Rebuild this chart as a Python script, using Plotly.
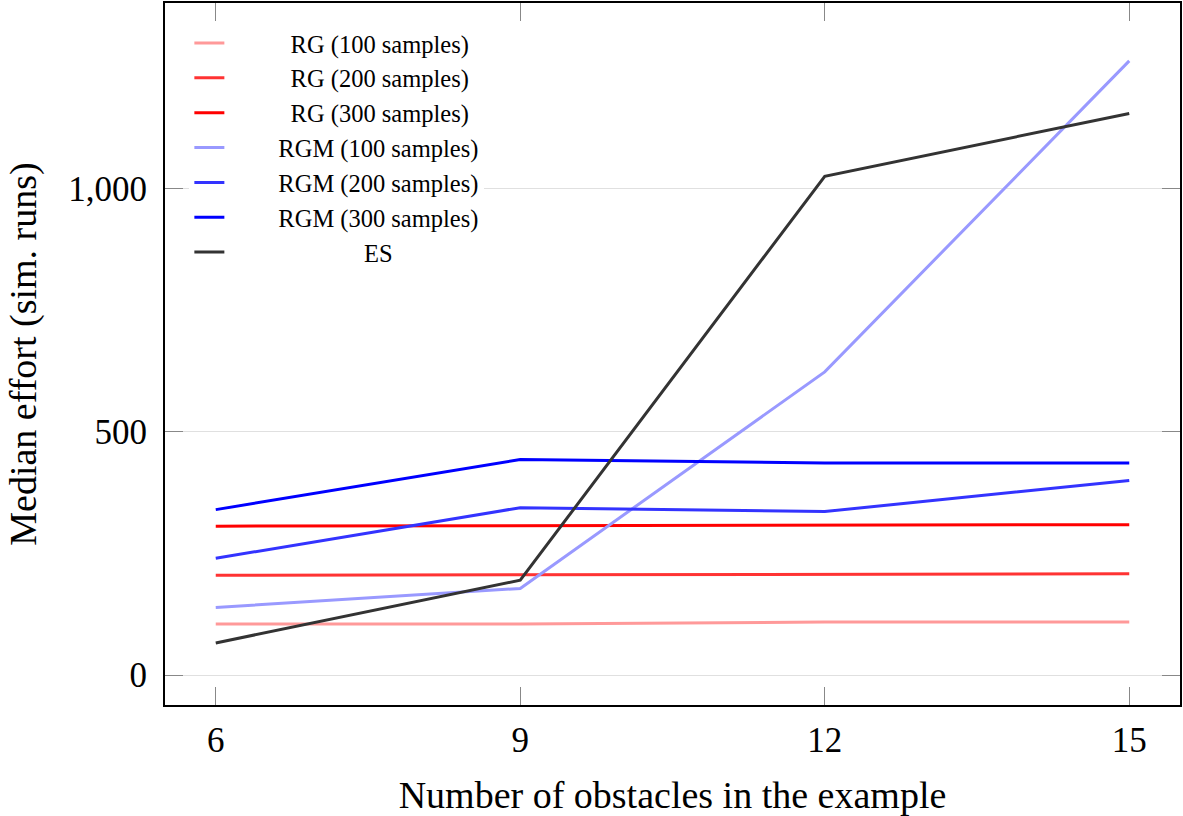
import plotly.graph_objects as go

obstacles = [6, 9, 12, 15]
rg_100 = [105, 105, 109, 109]
rg_200 = [205, 206, 208, 208]
rg_300 = [306, 307, 308, 309]
rgm_100 = [139, 178, 623, 1262]
rgm_200 = [240, 344, 336, 400]
rgm_300 = [340, 443, 436, 436]
es = [66, 195, 1025, 1154]

names = ["RG (100 samples)", "RG (200 samples)", "RG (300 samples)",
         "RGM (100 samples)", "RGM (200 samples)", "RGM (300 samples)", "ES"]
series = [rg_100, rg_200, rg_300, rgm_100, rgm_200, rgm_300, es]
colors = ["#ff9999", "#ff3333", "#ff0000", "#9999ff", "#3333ff", "#0000ff", "#333333"]

NB = "\u00a0"
pads = [10, 10, 10, 8, 8, 8, 22]

fig = go.Figure()
for name, vals, col, p in zip(names, series, colors, pads):
    fig.add_trace(go.Scatter(x=obstacles, y=vals, mode="lines", name=NB * p + name,
                             line=dict(color=col, width=3)))

font = "Liberation Serif"
fig.update_layout(
    width=1183, height=816,
    margin=dict(l=165, r=1, t=1, b=111),
    paper_bgcolor="white", plot_bgcolor="white",
    font=dict(family=font, color="black"),
    showlegend=True,
    legend=dict(x=0.024, y=0.975, xanchor="left", yanchor="top",
                bgcolor="white", borderwidth=0,
                font=dict(family=font, size=24.5), itemwidth=30,
                tracegroupgap=0),
    xaxis=dict(range=[5.5, 15.5], tickvals=obstacles, ticks="inside", ticklen=18,
               tickcolor="#888888", tickwidth=1, showgrid=False, zeroline=False,
               showline=True, linecolor="black", linewidth=2, mirror="ticks",
               tickfont=dict(size=35), ticklabelstandoff=3,
               title=dict(text="Number of obstacles in the example", font=dict(size=38), standoff=22)),
    yaxis=dict(range=[-61.5, 1381], tickvals=[0, 500, 1000], tickformat=",", ticks="inside",
               ticklen=18, tickcolor="#888888", tickwidth=1, showgrid=True,
               gridcolor="#e0e0e0", gridwidth=1, zeroline=False,
               showline=True, linecolor="black", linewidth=2, mirror="ticks",
               tickfont=dict(size=35), ticklabelstandoff=9,
               title=dict(text="Median effort (sim. runs)", font=dict(size=38), standoff=20)),
)

fig.write_html("out.html")
